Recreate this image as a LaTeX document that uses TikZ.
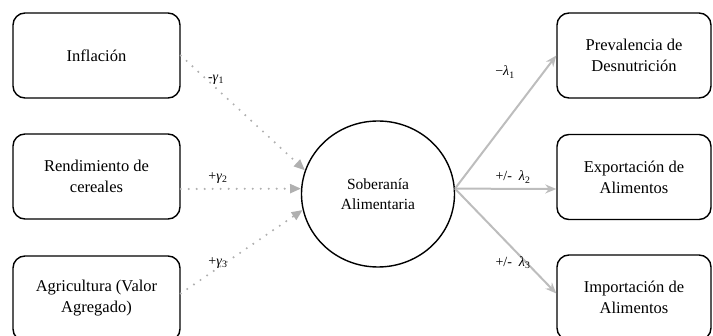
\documentclass[tikz,border=0pt]{standalone}
\usepackage{fontspec}
\setmainfont{Liberation Serif}
\usetikzlibrary{arrows.meta,shapes.geometric,calc}
\definecolor{arrgray}{HTML}{BDBDBD}
\definecolor{dotgray}{HTML}{B0B0B0}
\begin{document}
\begin{tikzpicture}[x=1pt,y=-1pt,
  varbox/.style={draw=black,line width=1.4pt,rounded corners=12pt,minimum width=167pt,minimum height=85pt,align=center,font=\fontsize{16.5}{21}\selectfont,inner sep=0pt},
  rbox/.style={varbox,minimum width=154pt},
  central/.style={draw=black,line width=1.4pt,ellipse,minimum width=153pt,minimum height=146pt,align=center,font=\fontsize{15.5}{20}\selectfont,inner sep=0pt},
  dotarrow/.style={dotgray,line width=2.3pt,dash pattern=on 0pt off 8pt,line cap=round,-{Triangle[length=11pt,width=9pt]}},
  solidarrow/.style={arrgray,line width=2pt,-{Stealth[length=11pt,width=9pt]}},
  coef/.style={font=\fontsize{14}{16}\selectfont,inner sep=0pt}]
\useasboundingbox (0,0) rectangle (713,336);
\node[varbox] (infl) at (96.5,55.5) {Inflación};
\node[varbox] (rend) at (96.5,176.5) {Rendimiento de\\cereales};
\node[varbox] (agri) at (96.5,298.5) {Agricultura (Valor\\Agregado)};
\node[central] (sob) at (378,194) {Soberanía\\Alimentaria};
\node[rbox] (prev) at (634,55.5) {Prevalencia de\\Desnutrición};
\node[rbox] (expo) at (634,177) {Exportación de\\Alimentos};
\node[rbox] (impo) at (634,297.5) {Importación de\\Alimentos};
\coordinate (rendout) at ($(rend.east)+(0,12.5)$);
\coordinate (agriout) at ($(agri.east)+(0,-5)$);
\coordinate (expoin) at ($(expo.west)+(0,12)$);
\coordinate (impoin) at ($(impo.west)+(0,-4)$);
\draw[dotarrow] (infl.east) -- (sob.162);
\draw[dotarrow] (rendout) -- (sob.176);
\draw[dotarrow] (agriout) -- (sob.192);
\draw[solidarrow] (sob.4) -- (prev.west);
\draw[solidarrow] (sob.4) -- (expoin);
\draw[solidarrow] (sob.4) -- (impoin);
\node[coef] (g1) at (216,80) {-\textit{γ}\textsubscript{1}};
\node[coef] (g2) at (218,178) {+\textit{γ}\textsubscript{2}};
\node[coef] (g3) at (218,263) {+\textit{γ}\textsubscript{3}};
\node[coef] (l1) at (505,72) {−\textit{λ}\textsubscript{1}};
\node[coef] (l2) at (513,177) {+/-\enspace\textit{λ}\textsubscript{2}};
\node[coef] (l3) at (513,263) {+/-\enspace\textit{λ}\textsubscript{3}};
\end{tikzpicture}
\end{document}
